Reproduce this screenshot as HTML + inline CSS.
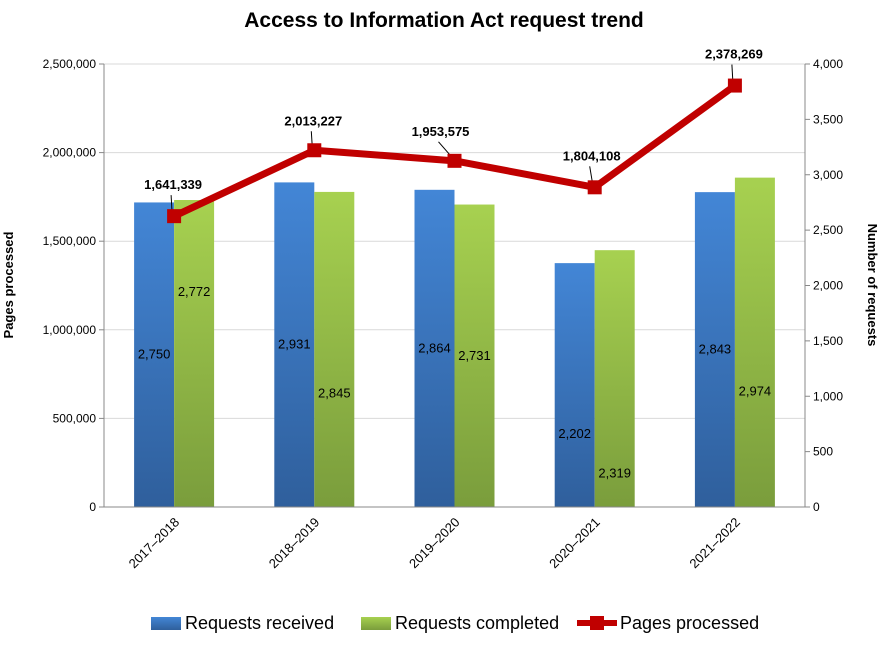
<!DOCTYPE html>
<html><head><meta charset="utf-8"><style>
body{margin:0;background:#fff;}
svg{display:block;font-family:"Liberation Sans",sans-serif;}
</style></head><body>
<svg id="c" width="888" height="646">
<defs>
<linearGradient id="gb" x1="0" y1="0" x2="0" y2="1"><stop offset="0" stop-color="#4386d6"/><stop offset="1" stop-color="#2f5f9c"/></linearGradient>
<linearGradient id="gg" x1="0" y1="0" x2="0" y2="1"><stop offset="0" stop-color="#a7d150"/><stop offset="1" stop-color="#7a9d3c"/></linearGradient>
</defs>
<text x="444" y="27" text-anchor="middle" font-size="21" font-weight="bold">Access to Information Act request trend</text>
<text transform="translate(13,285) rotate(-90)" text-anchor="middle" font-size="13" font-weight="bold">Pages processed</text>
<text transform="translate(868,285) rotate(90)" text-anchor="middle" font-size="13" font-weight="bold">Number of requests</text>
<g id="g"></g>
</svg>
<script>
const categories=["2017–2018","2018–2019","2019–2020","2020–2021","2021–2022"];
const received=[2750,2931,2864,2202,2843];
const completed=[2772,2845,2731,2319,2974];
const pages=[1641339,2013227,1953575,1804108,2378269];
const leftTicks=[0,500000,1000000,1500000,2000000,2500000];
const rightTicks=[0,500,1000,1500,2000,2500,3000,3500,4000];
// label placement (fraction of bar height from bottom) — layout, not data
const recvLabelPos=[0.5,0.5,0.5,0.3,0.5];
const compLabelPos=[0.7,0.36,0.5,0.13,0.35];
const pageLabelDx=[-1,-1,-14,-3,-1];
const pageLabelDy=[-24,-22,-22,-24,-24];
const X0=104,X1=805,Y0=507,Y1=64;
const yL=v=>Y0-v/2500000*(Y0-Y1);
const yR=v=>Y0-v/4000*(Y0-Y1);
const cw=(X1-X0)/categories.length;
const xc=i=>X0+cw*(i+0.5);
const fmt=v=>v.toLocaleString('en-US');
const g=document.getElementById('g');
const NS='http://www.w3.org/2000/svg';
function mk(t,a,p){const e=document.createElementNS(NS,t);for(const k in a)e.setAttribute(k,a[k]);(p||g).appendChild(e);return e;}
leftTicks.forEach(v=>{
  if(v>0){const l=mk('line',{x1:X0,x2:X1,y1:yL(v),y2:yL(v),stroke:'#d9d9d9'});
  
  }
  const t=mk('text',{x:X0-8,y:yL(v)+4,'text-anchor':'end','font-size':12});t.textContent=fmt(v);
  
  
  mk('line',{x1:X0-5,x2:X0,y1:yL(v),y2:yL(v),stroke:'#888'});
});
rightTicks.forEach(v=>{
  const t=mk('text',{x:X1+8,y:yR(v)+4,'font-size':12});t.textContent=fmt(v);
  
  
  mk('line',{x1:X1,x2:X1+5,y1:yR(v),y2:yR(v),stroke:'#888'});
});
mk('line',{x1:X0,x2:X0,y1:Y1,y2:Y0,stroke:'#888'});
mk('line',{x1:X1,x2:X1,y1:Y1,y2:Y0,stroke:'#888'});
const bw=40;
categories.forEach((c,i)=>{
  const x=xc(i);
  const b=mk('rect',{x:x-bw,y:yR(received[i]),width:bw,height:Y0-yR(received[i]),fill:'url(#gb)'});
  
  
  const b2=mk('rect',{x:x,y:yR(completed[i]),width:bw,height:Y0-yR(completed[i]),fill:'url(#gg)'});
  
  
  const t1=mk('text',{x:x-bw/2,y:Y0-(Y0-yR(received[i]))*recvLabelPos[i]+4,'text-anchor':'middle','font-size':13});t1.textContent=fmt(received[i]);
  
  
  const t2=mk('text',{x:x+bw/2,y:Y0-(Y0-yR(completed[i]))*compLabelPos[i]+4,'text-anchor':'middle','font-size':13});t2.textContent=fmt(completed[i]);
  
  
  const ct=mk('text',{transform:`translate(${x+6},${Y0+16}) rotate(-45)`,'text-anchor':'end','font-size':13});ct.textContent=c;
  
  
});
mk('line',{x1:X0,x2:X1,y1:Y0,y2:Y0,stroke:'#888'});
const pl=mk('polyline',{points:pages.map((v,i)=>xc(i)+','+yL(v)).join(' '),fill:'none',stroke:'#c00000','stroke-width':7,'stroke-linejoin':'round'});


pages.forEach((v,i)=>{
  const y=yL(v), lx=xc(i)+pageLabelDx[i], ly=y+pageLabelDy[i];
  mk('line',{x1:xc(i)-2,x2:lx-2,y1:y-3,y2:ly+3,stroke:'#000','stroke-width':1});
  const m=mk('rect',{x:xc(i)-7,y:y-7,width:14,height:14,fill:'#c00000'});
  
  
  const t=mk('text',{x:lx,y:ly-3,'text-anchor':'middle','font-size':13,'font-weight':'bold'});t.textContent=fmt(v);
  
  
});
const lg=mk('g',{});


mk('rect',{x:151,y:617,width:30,height:13,fill:'url(#gb)'},lg);
let t=mk('text',{x:185,y:629,'font-size':18},lg);t.textContent='Requests received';
mk('rect',{x:361,y:617,width:30,height:13,fill:'url(#gg)'},lg);
t=mk('text',{x:395,y:629,'font-size':18},lg);t.textContent='Requests completed';
mk('line',{x1:577,x2:617,y1:623,y2:623,stroke:'#c00000','stroke-width':6},lg);
mk('rect',{x:590,y:616,width:14,height:14,fill:'#c00000'},lg);
t=mk('text',{x:620,y:629,'font-size':18},lg);t.textContent='Pages processed';
</script>
</body></html>
